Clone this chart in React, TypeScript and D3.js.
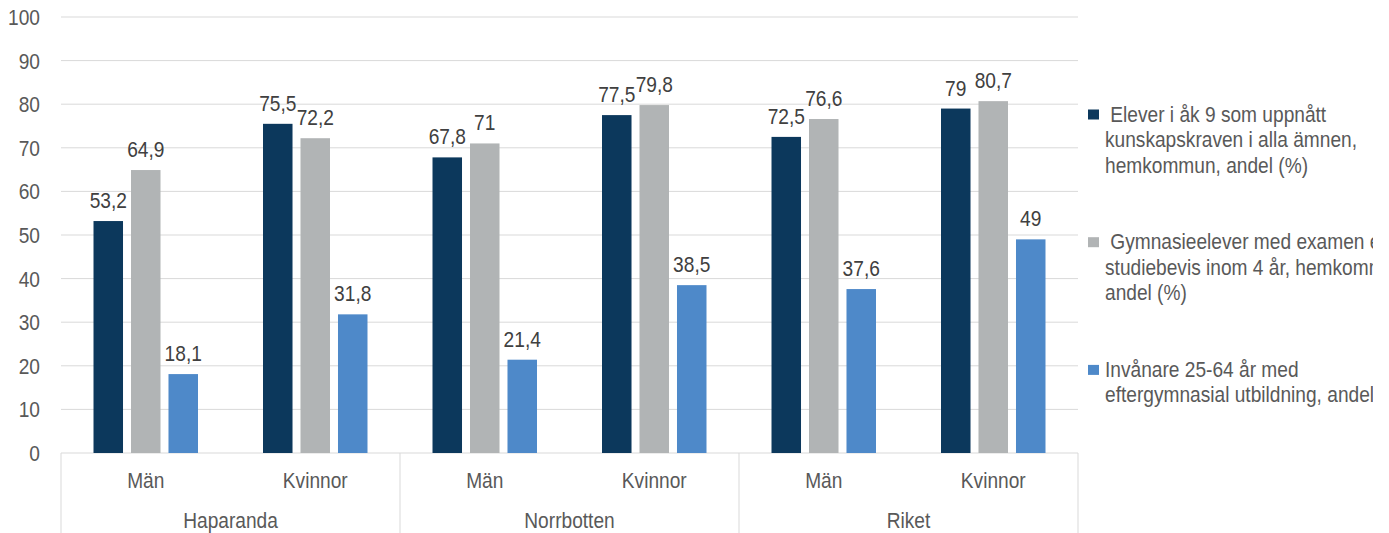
import React from "react";
import * as d3 from "d3";

const groups = ["Haparanda", "Norrbotten", "Riket"];
const subcats = ["Män", "Kvinnor"];
const seriesNames = [
  "Elever i åk 9 som uppnått kunskapskraven i alla ämnen, hemkommun, andel (%)",
  "Gymnasieelever med examen eller studiebevis inom 4 år, hemkommun, andel (%)",
  "Invånare 25-64 år med eftergymnasial utbildning, andel (%)",
];
const legendLines = [
  [" Elever i åk 9 som uppnått", "kunskapskraven i alla ämnen,", "hemkommun, andel (%)"],
  [" Gymnasieelever med examen eller", "studiebevis inom 4 år, hemkommun,", "andel (%)"],
  ["Invånare 25-64 år med", "eftergymnasial utbildning, andel (%)"],
];
const colors = ["#0c385c", "#b1b4b5", "#4e89c9"];
// values per group, per subcategory: [series1, series2, series3]
const haparanda = [[53.2, 64.9, 18.1], [75.5, 72.2, 31.8]];
const norrbotten = [[67.8, 71, 21.4], [77.5, 79.8, 38.5]];
const riket = [[72.5, 76.6, 37.6], [79, 80.7, 49]];
const values = [haparanda, norrbotten, riket];
const yTicks = [0, 10, 20, 30, 40, 50, 60, 70, 80, 90, 100];

const FONT = "'Liberation Sans', Arial, sans-serif";
const SX = 0.87;

type TProps = {
  x: number;
  y: number;
  size: number;
  fill: string;
  anchor?: "start" | "middle" | "end";
  dy?: string;
  children: React.ReactNode;
};

function T({ x, y, size, fill, anchor = "start", dy, children }: TProps) {
  return (
    <text
      transform={`translate(${x},${y}) scale(${SX},1)`}
      textAnchor={anchor}
      fontSize={size}
      fill={fill}
      dy={dy}
      style={{ whiteSpace: "pre" }}
    >
      {children}
    </text>
  );
}

export default function App() {
  const W = 1389, H = 533;
  const left = 61, right = 1078, top = 17, bottom = 453;
  const y = d3.scaleLinear().domain([0, 100]).range([bottom, top]);
  const x0 = d3.scaleBand<string>().domain(groups).range([left, right]);
  const x1 = d3.scaleBand<string>().domain(subcats).range([0, x0.bandwidth()]);
  const x2 = d3
    .scaleBand<number>()
    .domain([0, 1, 2])
    .range([0, x1.bandwidth()])
    .paddingInner(0.213)
    .paddingOuter(0.867);
  const fmt = (v: number) => String(v).replace(".", ",");

  return (
    <svg
      width={W}
      height={H}
      style={{ position: "absolute", left: 0, top: 0, background: "#fff" }}
      fontFamily={FONT}
    >
      <defs>
        <clipPath id="legclip">
          <rect x={1080} y={0} width={293} height={H} />
        </clipPath>
      </defs>
      {yTicks.map((t) => (
        <g key={t}>
          {t > 0 && (
            <line x1={left} x2={right} y1={y(t)} y2={y(t)} stroke="#d9d9d9" strokeWidth={1} />
          )}
          <T x={40} y={y(t)} dy="0.36em" anchor="end" size={22} fill="#595959">
            {t}
          </T>
        </g>
      ))}
      {/* bottom axis */}
      <line x1={left} x2={right} y1={bottom} y2={bottom} stroke="#d9d9d9" strokeWidth={1} />
      {[...groups.map((g) => x0(g)!), right].map((xx, i) => (
        <line key={i} x1={xx} x2={xx} y1={bottom} y2={H} stroke="#d9d9d9" strokeWidth={1} />
      ))}
      {groups.map((g, gi) => (
        <g key={g}>
          {subcats.map((s, si) => {
            const cx = x0(g)! + x1(s)!;
            return (
              <g key={s}>
                {values[gi][si].map((v, k) => {
                  const bx = cx + x2(k)!;
                  const bw = x2.bandwidth();
                  return (
                    <g key={k}>
                      <rect x={bx} y={y(v)} width={bw} height={bottom - y(v)} fill={colors[k]} />
                      <T x={bx + bw / 2} y={y(v) - 13} anchor="middle" size={22} fill="#404040">
                        {fmt(v)}
                      </T>
                    </g>
                  );
                })}
                <T x={cx + x1.bandwidth() / 2} y={488} anchor="middle" size={22} fill="#595959">
                  {s}
                </T>
              </g>
            );
          })}
          <T x={x0(g)! + x0.bandwidth() / 2} y={528} anchor="middle" size={22} fill="#595959">
            {g}
          </T>
        </g>
      ))}
      {/* legend */}
      <g clipPath="url(#legclip)">
        {seriesNames.map((name, i) => {
          const baseY = 121.5 + i * 127.7;
          return (
            <g key={name}>
              <rect x={1088} y={baseY - 12} width={11} height={10} fill={colors[i]} />
              {legendLines[i].map((ln, j) => (
                <T key={j} x={1105} y={baseY + j * 25.5} size={22} fill="#595959">
                  {ln}
                </T>
              ))}
            </g>
          );
        })}
      </g>
    </svg>
  );
}
